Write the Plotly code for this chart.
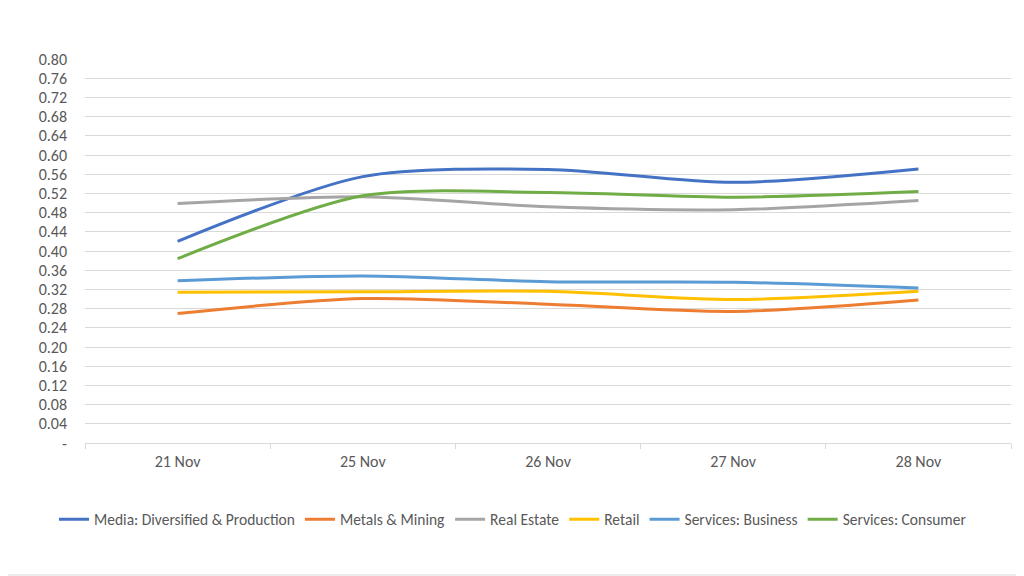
import plotly.graph_objects as go

categories = ["21 Nov", "25 Nov", "26 Nov", "27 Nov", "28 Nov"]
media = [0.420, 0.555, 0.570, 0.543, 0.571]
metals = [0.270, 0.301, 0.289, 0.274, 0.298]
real_estate = [0.499, 0.513, 0.492, 0.486, 0.505]
retail = [0.314, 0.315, 0.316, 0.299, 0.316]
serv_business = [0.338, 0.348, 0.336, 0.335, 0.323]
serv_consumer = [0.384, 0.515, 0.522, 0.512, 0.524]

series_names = ["Media: Diversified & Production", "Metals & Mining", "Real Estate",
                "Retail", "Services: Business", "Services: Consumer"]
series_values = [media, metals, real_estate, retail, serv_business, serv_consumer]
colors = ["#4472C4", "#ED7D31", "#A5A5A5", "#FFC000", "#5B9BD5", "#70AD47"]

y_tickvals = [0, 0.04, 0.08, 0.12, 0.16, 0.20, 0.24, 0.28, 0.32, 0.36, 0.40,
              0.44, 0.48, 0.52, 0.56, 0.60, 0.64, 0.68, 0.72, 0.76, 0.80]
y_ticktext = ["-"] + [f"{v:.2f}" for v in y_tickvals[1:]]

FONT = "Calibri, Carlito, Lato, sans-serif"

fig = go.Figure()
for name, vals, col in zip(series_names, series_values, colors):
    fig.add_trace(go.Scatter(x=categories, y=vals, name=name, mode="lines",
                             line=dict(color=col, width=3, shape="spline", smoothing=0.8)))

# page body has an 8px offset; figure occupies screen 8..1024 x 8..576
W, H = 1016, 568
L, R, T, B = 77, 13, 51, 133
pw, ph = W - L - R, H - T - B

fig.update_layout(
    width=W, height=H,
    margin=dict(l=L, r=R, t=T, b=B),
    paper_bgcolor="white", plot_bgcolor="white",
    font=dict(family=FONT, size=15, color="#595959"),
    showlegend=True,
    legend=dict(orientation="h", x=(505 - L) / pw, xanchor="center", y=-0.2, yanchor="middle",
                font=dict(size=15.5, color="#595959"), tracegroupgap=0),
    xaxis=dict(type="category", range=[-0.5, 4.5], showgrid=False,
               showline=True, linecolor="#D9D9D9", linewidth=1,
               ticks="outside", tickson="boundaries", ticklen=5, tickcolor="#D9D9D9",
               ticklabelstandoff=4,
               tickfont=dict(size=16, color="#595959"), fixedrange=True),
    yaxis=dict(range=[0, 0.80], tickvals=y_tickvals, ticktext=y_ticktext,
               showgrid=True, gridcolor="#D9D9D9", gridwidth=1,
               zeroline=False, showline=False, ticks="", ticklabelstandoff=17,
               tickfont=dict(size=16, color="#595959"), fixedrange=True),
    shapes=[
        dict(type="line", xref="paper", yref="paper",
             x0=(W - 1.5 - L) / pw, x1=(W - 1.5 - L) / pw,
             y0=(H - B - (H - 1)) / ph, y1=(H - B + 8) / ph,
             line=dict(color="#D9D9D9", width=1), layer="below"),
        dict(type="line", xref="paper", yref="paper",
             x0=(-8 - L) / pw, x1=(W - 1 - L) / pw,
             y0=(H - B - (H - 1)) / ph, y1=(H - B - (H - 1)) / ph,
             line=dict(color="#D9D9D9", width=1), layer="below"),
    ],
)

fig.write_html("out.html")
